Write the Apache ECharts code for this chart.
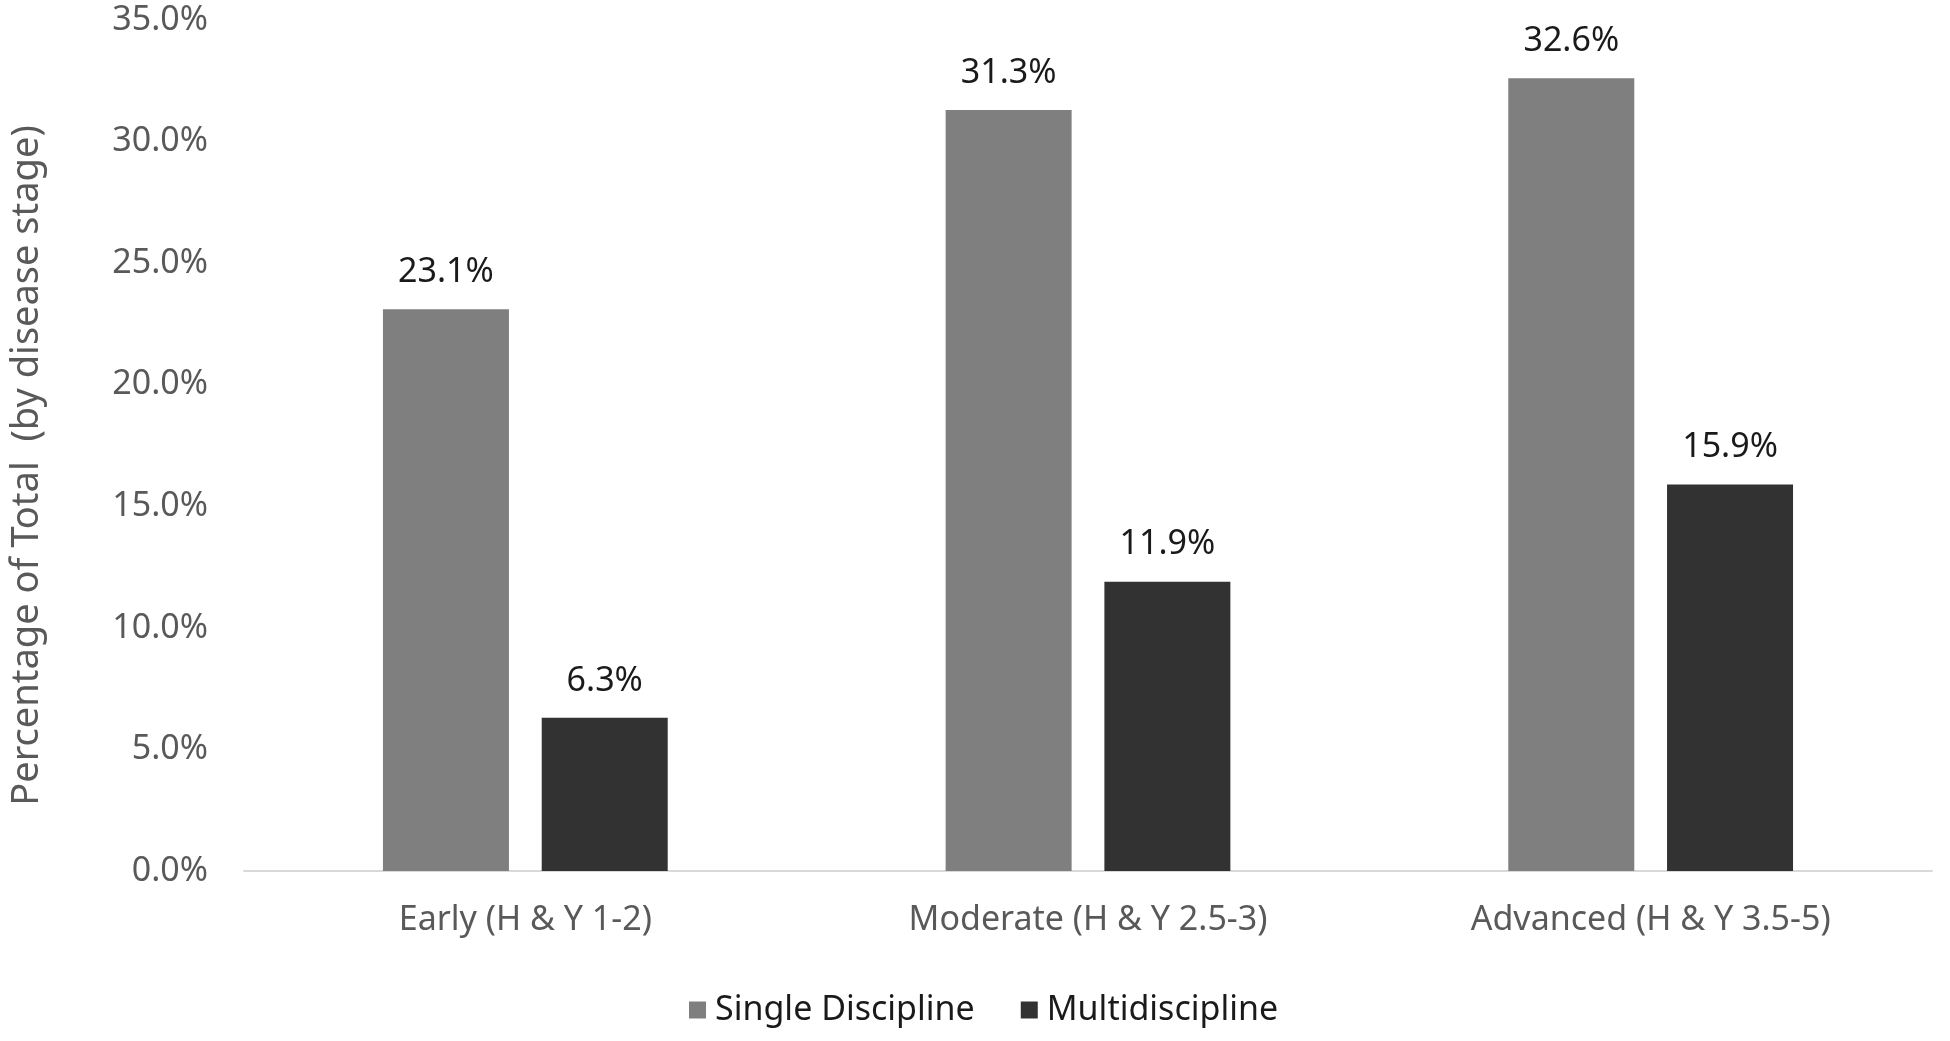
<!DOCTYPE html>
<html>
<head>
<meta charset="utf-8">
<title>Percentage of Total by disease stage</title>
<script src="https://cdn.jsdelivr.net/npm/echarts@6/dist/echarts.min.js"></script>
<style>
  html, body { margin: 0; padding: 0; background: #fff; }
  #chart { width: 1950px; height: 1041px; }
</style>
</head>
<body>
<div id="chart"></div>
<script>
// data
const stages = ['Early (H & Y 1-2)', 'Moderate (H & Y 2.5-3)', 'Advanced (H & Y 3.5-5)']
const singleDiscipline = [23.1, 31.3, 32.6]
const multidiscipline = [6.3, 11.9, 15.9]
const seriesNames = ['Single Discipline', 'Multidiscipline']

const FONT = '"Noto Sans", "Open Sans", sans-serif'
const pct = v => Number(v).toFixed(1) + '%'

const chart = echarts.init(document.getElementById('chart'))

const dataLabel = {
  show: true,
  position: 'top',
  distance: 20,
  color: '#1a1a1a',
  fontFamily: FONT,
  fontSize: 34,
  formatter: p => pct(p.value)
}

chart.setOption({
  animation: false,
  textStyle: { fontFamily: FONT },
  grid: { left: 238, right: 18, top: 20, bottom: 170 },
  legend: {
    data: seriesNames,
    left: 684,
    top: 988,
    icon: 'rect',
    itemWidth: 17,
    itemHeight: 17,
    itemGap: 46,
    textStyle: { color: '#1a1a1a', fontSize: 34, fontFamily: FONT, padding: [0, 0, 0, 4] }
  },
  xAxis: {
    type: 'category',
    data: stages,
    axisLine: { lineStyle: { color: '#d9d9d9', width: 2 } },
    axisTick: { show: false },
    axisLabel: { color: '#595959', fontSize: 34, fontFamily: FONT, margin: 32 }
  },
  yAxis: {
    type: 'value',
    min: 0,
    max: 35,
    interval: 5,
    name: 'Percentage of Total  (by disease stage)',
    nameLocation: 'middle',
    nameGap: 198,
    // extra right padding nudges the rotated title a bit lower, as in the original
    nameTextStyle: { color: '#595959', fontSize: 38, fontFamily: FONT, padding: [0, 40, 0, 0] },
    axisLine: { show: false },
    axisTick: { show: false },
    splitLine: { show: false },
    axisLabel: { color: '#595959', fontSize: 34, fontFamily: FONT, margin: 36, formatter: pct }
  },
  series: [
    {
      name: seriesNames[0],
      type: 'bar',
      data: singleDiscipline,
      barWidth: 126,
      barGap: '26%',
      itemStyle: { color: '#7f7f7f' },
      label: dataLabel
    },
    {
      name: seriesNames[1],
      type: 'bar',
      data: multidiscipline,
      barWidth: 126,
      itemStyle: { color: '#323232' },
      label: dataLabel
    }
  ]
})

window.addEventListener('resize', () => chart.resize())
</script>
</body>
</html>
